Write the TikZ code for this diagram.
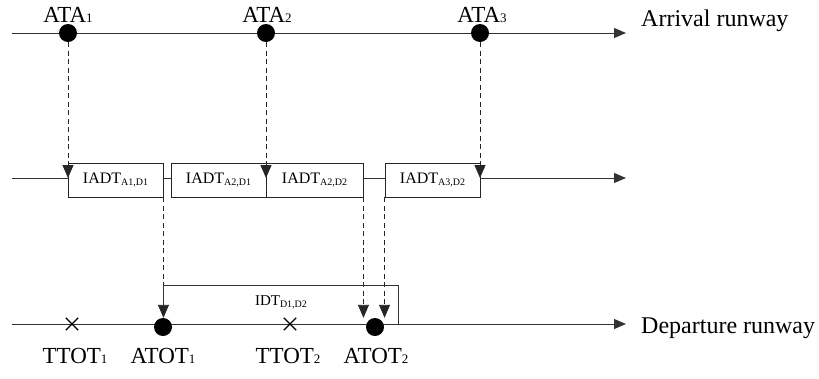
\documentclass[tikz,border=0pt]{standalone}
\usepackage{fontspec}
\setmainfont{Liberation Serif}
\usetikzlibrary{arrows.meta,shapes.misc}
\newcommand\smallsub[1]{{\fontsize{13}{13}\selectfont #1}}
\newcommand\boxsub[1]{\raisebox{-2pt}{\fontsize{10}{10}\selectfont #1}}
\tikzset{
  rw/.style={draw=black!80, line width=1pt},
  tip/.style={-{Triangle[length=12pt,width=10pt]}},
  dtip/.style={-{Triangle[length=13pt,width=11pt]}},
  dashline/.style={draw=black!85, line width=0.9pt, dash pattern=on 5pt off 3.5pt},
  dot/.style={circle, fill=black, inner sep=0pt, minimum size=18pt},
  xmark/.style={cross out, draw=black, line width=1.3pt, inner sep=0pt, minimum size=11pt},
  ibox/.style={draw=black!85, line width=0.9pt, fill=white, minimum height=34pt, inner sep=0pt, font=\fontsize{16}{16}\selectfont},
  lab/.style={anchor=base, inner sep=0pt, font=\fontsize{23}{23}\selectfont},
  rwlab/.style={anchor=base west, inner sep=0pt, font=\fontsize{24}{24}\selectfont},
}
\begin{document}
\begin{tikzpicture}[x=1pt,y=-1pt]
\useasboundingbox (0,0) rectangle (819,378);
% runways
\coordinate (as) at (12,33);
\coordinate (ae) at (626,33);
\coordinate (ms) at (12,178);
\coordinate (me) at (626,178);
\coordinate (ds) at (12,324);
\coordinate (de) at (626,324);
\draw[rw,tip] (as) -- (ae);
\node[rwlab] (arrlab) at (641,26) {Arrival runway};
\node[rwlab] (deplab) at (641,333) {Departure runway};
% boxes
\node[ibox, minimum width=95pt] (b1) at (115.5,180) {IADT\boxsub{A1,D1}};
\node[ibox, minimum width=95pt] (b2a) at (218.5,180) {IADT\boxsub{A2,D1}};
\node[ibox, minimum width=97pt] (b2b) at (314.5,180) {IADT\boxsub{A2,D2}};
\node[ibox, minimum width=95pt] (b3) at (432.5,180) {IADT\boxsub{A3,D2}};
\draw[rw] (ms) -- (ms -| b1.west);
\draw[rw] (ms -| b1.east) -- (ms -| b2a.west);
\draw[rw] (ms -| b2b.east) -- (ms -| b3.west);
\draw[rw,tip] (ms -| b3.east) -- (me);
% departure line
\draw[rw,tip] (ds) -- (de);
% arrival dots
\node[dot] (a1) at (68,33) {};
\node[dot] (a2) at (266,33) {};
\node[dot] (a3) at (480,33) {};
\node[lab] (la1) at (68,22) {ATA\smallsub{1}};
\node[lab] (la2) at (267,22) {ATA\smallsub{2}};
\node[lab] (la3) at (482,22) {ATA\smallsub{3}};
% departure marks
\node[xmark] (t1) at (72,324) {};
\node[xmark] (t2) at (290,324) {};
\node[dot] (d1) at (163,327) {};
\node[dot] (d2) at (375,327) {};
\node[lab] (lt1) at (75,363) {TTOT\smallsub{1}};
\node[lab] (ld1) at (163,363) {ATOT\smallsub{1}};
\node[lab] (lt2) at (288,363) {TTOT\smallsub{2}};
\node[lab] (ld2) at (376,363) {ATOT\smallsub{2}};
% dashed arrows from arrivals
\draw[dashline,dtip] (a1.south) -- (a1.south |- ms);
\draw[dashline,dtip] (a2.south) -- (a2.south |- ms);
\draw[dashline,dtip] (a3.south) -- (a3.south |- ms);
% dashed arrows to departures
\draw[dashline,dtip] (b1.south east) -- (b1.south east |- d1.north);
\draw[dashline,dtip] (b2b.south east) -- (b2b.south east |- d2.north);
\draw[dashline,dtip] (b3.south west) -- (b3.south west |- d2.north);
% IDT bracket
\coordinate (bl) at (163,306);
\coordinate (br) at (398,285);
\draw[rw, line width=0.9pt] (bl) |- (br) -- (br |- ds);
\node[inner sep=0pt, font=\fontsize{15}{15}\selectfont] (idt) at (281,302) {IDT\boxsub{D1,D2}};
\end{tikzpicture}
\end{document}
